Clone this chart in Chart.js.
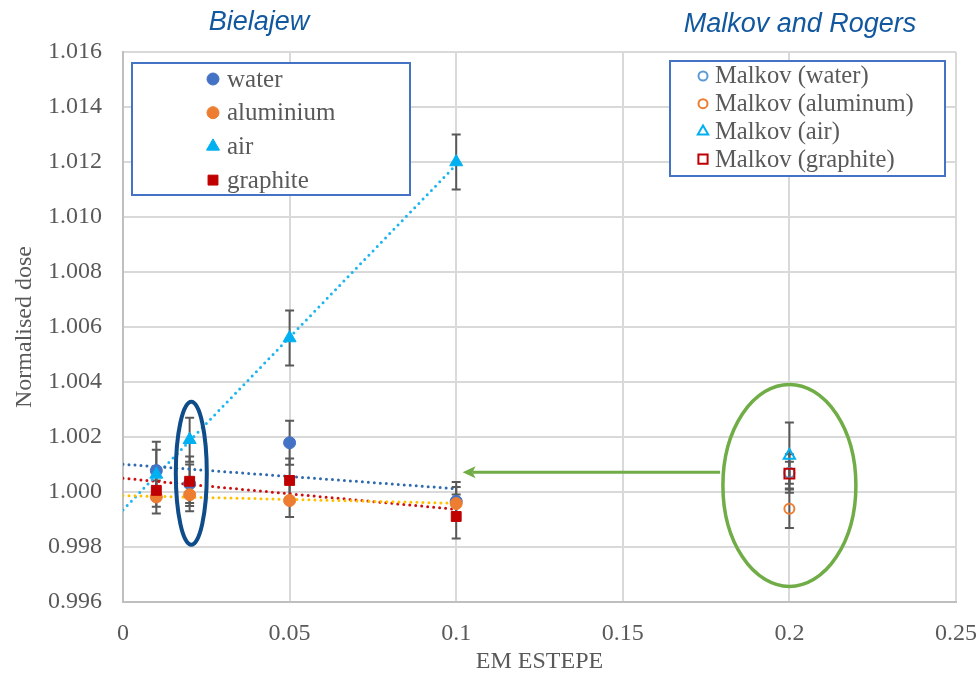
<!DOCTYPE html>
<html>
<head>
<meta charset="utf-8">
<title>Normalised dose vs EM ESTEPE</title>
<script src="https://cdn.jsdelivr.net/npm/chart.js@4.4.1/dist/chart.umd.min.js"></script>
<style>
  html, body { margin: 0; padding: 0; background: #ffffff; }
  #wrap { width: 980px; height: 674px; position: relative; }
</style>
</head>
<body>
<div id="wrap"><canvas id="chart" width="980" height="674"></canvas></div>
<script>
// ---- data: Bielajew series (EM ESTEPE vs normalised dose, symmetric errors) ----
const steps = [0.01, 0.02, 0.05, 0.1];
const waterDose     = [1.00078, 1.00030, 1.00179, 0.99966];
const waterErr      = [0.00105, 0.00070, 0.00080, 0.00070];
const aluminiumDose = [0.99982, 0.99990, 0.99969, 0.99958];
const aluminiumErr  = [0.00060, 0.00060, 0.00060, 0.00060];
const airDose       = [1.00064, 1.00190, 1.00560, 1.01200];
const airErr        = [0.00090, 0.00080, 0.00100, 0.00100];
const graphiteDose  = [1.00006, 1.00039, 1.00042, 0.99911];
const graphiteErr   = [0.00060, 0.00090, 0.00080, 0.00080];

// ---- data: Malkov and Rogers ----
const malkovStep        = [0.2];
const malkovWater       = [1.00070];
const malkovWaterErr    = [0.00040];
const malkovAluminum    = [0.99939];
const malkovAluminumErr = [0.00070];
const malkovAir         = [1.00133];
const malkovAirErr      = [0.00120];
const malkovGraphite    = [1.00067];
const malkovGraphiteErr = [0.00070];

// ---- linear trendlines (endpoints) ----
const trendX         = [0, 0.1];
const waterTrend     = [1.00101, 1.00012];
const aluminiumTrend = [0.99987, 0.99959];
const airTrend       = [0.99935, 1.01190];
const graphiteTrend  = [1.00050, 0.99937];

// ---- tick labels ----
const xTickLabels = ['0', '0.05', '0.1', '0.15', '0.2', '0.25'];
const yTickLabels = ['0.996', '0.998', '1.000', '1.002', '1.004', '1.006',
                     '1.008', '1.010', '1.012', '1.014', '1.016'];

const pts = (xs, ys) => ys.map((y, i) => ({ x: xs[i % xs.length], y }));

const SERIF = '"Liberation Serif", "Times New Roman", serif';
const SANS = '"Liberation Sans", Arial, sans-serif';
const TEXT_GREY = '#595959';

function markerSet(label, xs, ys, errs, style, color, radius, open, group, order) {
  return {
    label, data: pts(xs, ys), errors: errs, legendGroup: group, order,
    pointStyle: style, pointRadius: radius, pointHoverRadius: radius,
    pointBackgroundColor: open ? 'rgba(0,0,0,0)' : color,
    pointBorderColor: color, pointBorderWidth: open ? 2 : 1,
    showLine: false
  };
}

function trendSet(xs, ys, color) {
  return {
    label: '', data: pts(xs, ys), showLine: true, pointRadius: 0,
    borderColor: color, borderWidth: 3, borderDash: [0, 6],
    borderCapStyle: 'round', fill: false, order: 20, isTrend: true
  };
}

const datasets = [
  markerSet('water', steps, waterDose, waterErr, 'circle', '#4472C4', 6, false, 'left', 4),
  markerSet('aluminium', steps, aluminiumDose, aluminiumErr, 'circle', '#ED7D31', 6, false, 'left', 3),
  markerSet('air', steps, airDose, airErr, 'triangle', '#00B0F0', 7.5, false, 'left', 2),
  markerSet('graphite', steps, graphiteDose, graphiteErr, 'rect', '#C00000', 7, false, 'left', 1),
  markerSet('Malkov (water)', malkovStep, malkovWater, malkovWaterErr, 'circle', '#5B9BD5', 5, true, 'right', 8),
  markerSet('Malkov (aluminum)', malkovStep, malkovAluminum, malkovAluminumErr, 'circle', '#ED7D31', 5, true, 'right', 7),
  markerSet('Malkov (air)', malkovStep, malkovAir, malkovAirErr, 'triangle', '#00B0F0', 6.5, true, 'right', 6),
  markerSet('Malkov (graphite)', malkovStep, malkovGraphite, malkovGraphiteErr, 'rect', '#C00000', 7, true, 'right', 5),
  trendSet(trendX, waterTrend, '#2E6AAE'),
  trendSet(trendX, aluminiumTrend, '#FFC000'),
  trendSet(trendX, airTrend, '#1CB5EE'),
  trendSet(trendX, graphiteTrend, '#CC1010')
];

// Error bars, drawn underneath the markers
const errorBars = {
  id: 'errorBars',
  beforeDatasetsDraw(chart) {
    const { ctx, scales: { x, y } } = chart;
    ctx.save();
    ctx.strokeStyle = '#595959';
    ctx.lineWidth = 2;
    chart.data.datasets.forEach(ds => {
      if (!ds.errors) return;
      ds.data.forEach((p, i) => {
        const e = ds.errors[i];
        const px = x.getPixelForValue(p.x);
        const top = y.getPixelForValue(p.y + e);
        const bot = y.getPixelForValue(p.y - e);
        ctx.beginPath();
        ctx.moveTo(px, top); ctx.lineTo(px, bot);
        ctx.moveTo(px - 4.5, top); ctx.lineTo(px + 4.5, top);
        ctx.moveTo(px - 4.5, bot); ctx.lineTo(px + 4.5, bot);
        ctx.stroke();
      });
    });
    ctx.restore();
  }
};

// Highlight ellipses and the pointer arrow
const highlights = {
  id: 'highlights',
  afterDatasetsDraw(chart) {
    const { ctx, scales: { x, y } } = chart;
    ctx.save();
    // Bielajew at 0.02
    ctx.strokeStyle = '#0F4C8A';
    ctx.lineWidth = 4;
    ctx.beginPath();
    ctx.ellipse(x.getPixelForValue(0.0205), y.getPixelForValue(1.00068), 15.5, 71.5, 0, 0, Math.PI * 2);
    ctx.stroke();
    // Malkov and Rogers at 0.2
    ctx.strokeStyle = '#70AD47';
    ctx.lineWidth = 3.5;
    ctx.beginPath();
    ctx.ellipse(x.getPixelForValue(0.2), y.getPixelForValue(1.00024), 66.5, 101, 0, 0, Math.PI * 2);
    ctx.stroke();
    // arrow
    const ay = y.getPixelForValue(1.00072);
    const tip = x.getPixelForValue(0.1019);
    const tail = x.getPixelForValue(0.1792);
    ctx.lineWidth = 3;
    ctx.beginPath();
    ctx.moveTo(tail, ay); ctx.lineTo(tip + 10, ay);
    ctx.stroke();
    ctx.fillStyle = '#70AD47';
    ctx.beginPath();
    ctx.moveTo(tip, ay);
    ctx.lineTo(tip + 13, ay - 6);
    ctx.lineTo(tip + 10, ay);
    ctx.lineTo(tip + 13, ay + 6);
    ctx.closePath();
    ctx.fill();
    ctx.restore();
  }
};

// Boxed legends and group titles
const boxedLegends = {
  id: 'boxedLegends',
  afterDraw(chart) {
    const { ctx } = chart;
    const H = Chart.helpers;
    const groups = [
      { key: 'left', box: [132, 63, 278, 132], mx: 213, tx: 227, y0: 79, dy: 33.7, font: 25, sizes: { circle: 6, triangle: 7.5, rect: 7 } },
      { key: 'right', box: [670, 61, 275, 115], mx: 703, tx: 715, y0: 76, dy: 27.7, font: 24.6, sizes: { circle: 4.5, triangle: 6, rect: 6.5 } }
    ];
    ctx.save();
    groups.forEach(g => {
      const [bx, by, bw, bh] = g.box;
      ctx.fillStyle = '#ffffff';
      ctx.fillRect(bx, by, bw, bh);
      ctx.strokeStyle = '#4472C4';
      ctx.lineWidth = 2;
      ctx.strokeRect(bx, by, bw, bh);
      const items = chart.data.datasets.filter(d => d.legendGroup === g.key);
      items.forEach((d, i) => {
        const cy = g.y0 + i * g.dy;
        ctx.fillStyle = d.pointBackgroundColor;
        ctx.strokeStyle = d.pointBorderColor;
        ctx.lineWidth = d.pointBorderWidth;
        H.drawPoint(ctx, { pointStyle: d.pointStyle, radius: g.sizes[d.pointStyle], rotation: 0, borderWidth: d.pointBorderWidth }, g.mx, cy);
        ctx.fillStyle = TEXT_GREY;
        ctx.font = g.font + 'px ' + SERIF;
        ctx.textAlign = 'left';
        ctx.textBaseline = 'middle';
        ctx.fillText(d.label, g.tx, cy + 1);
      });
    });
    ctx.fillStyle = '#12589F';
    ctx.font = 'italic 27px ' + SANS;
    ctx.textAlign = 'center';
    ctx.textBaseline = 'alphabetic';
    ctx.fillText('Bielajew', 259, 30);
    ctx.fillText('Malkov and Rogers', 800, 32);
    ctx.restore();
  }
};

new Chart(document.getElementById('chart'), {
  type: 'scatter',
  data: { datasets },
  plugins: [errorBars, highlights, boxedLegends],
  options: {
    responsive: false,
    animation: false,
    devicePixelRatio: 1,
    layout: { padding: { top: 52, right: 24, left: 0, bottom: 0 } },
    plugins: { legend: { display: false }, tooltip: { enabled: false } },
    scales: {
      x: {
        type: 'linear', min: 0, max: 0.25,
        afterFit: s => { s.height = 72; s.paddingLeft = 0; s.paddingRight = 0; },
        afterBuildTicks: s => { s.ticks = xTickLabels.map(t => ({ value: parseFloat(t) })); },
        ticks: {
          padding: 17, color: TEXT_GREY, maxRotation: 0, autoSkip: false,
          font: { family: SERIF, size: 24 },
          callback: (v, i) => xTickLabels[i]
        },
        grid: { color: '#D9D9D9', lineWidth: 2, drawTicks: false },
        border: { color: '#BFBFBF', width: 2 },
        title: {
          display: true, text: 'EM ESTEPE', color: TEXT_GREY,
          font: { family: SERIF, size: 24, lineHeight: 1 },
          padding: { top: 0, bottom: 0 }
        }
      },
      y: {
        type: 'linear', min: 0.996, max: 1.016,
        afterFit: s => { s.width = 123; s.paddingTop = 0; s.paddingBottom = 0; },
        afterBuildTicks: s => { s.ticks = yTickLabels.map(t => ({ value: parseFloat(t) })); },
        ticks: {
          padding: 21, color: TEXT_GREY, autoSkip: false,
          font: { family: SERIF, size: 24 },
          callback: (v, i) => yTickLabels[i]
        },
        grid: { color: '#D9D9D9', lineWidth: 2, drawTicks: false },
        border: { color: '#BFBFBF', width: 2 },
        title: {
          display: true, text: 'Normalised dose', color: TEXT_GREY,
          font: { family: SERIF, size: 24, lineHeight: 1 },
          padding: { top: 13, bottom: 0 }
        }
      }
    }
  }
});
</script>
</body>
</html>
